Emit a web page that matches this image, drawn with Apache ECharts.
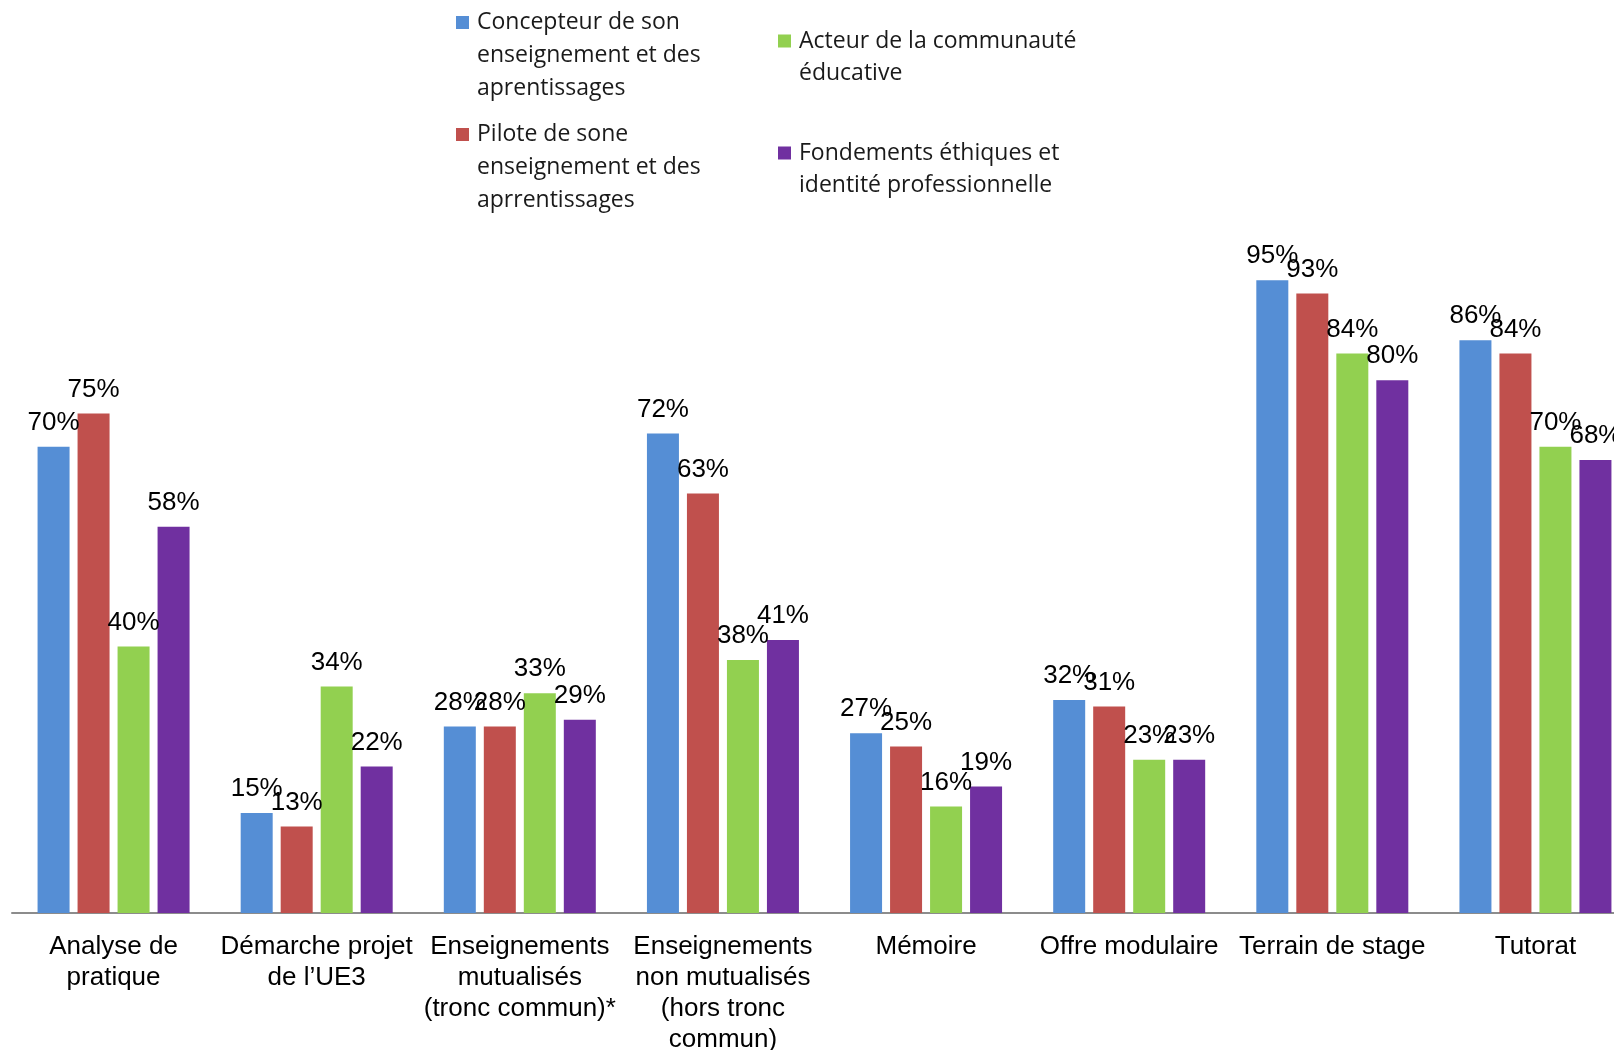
<!DOCTYPE html>
<html>
<head>
<meta charset="utf-8">
<script src="https://cdn.jsdelivr.net/npm/echarts@6/dist/echarts.min.js"></script>
<style>
html,body{margin:0;padding:0;background:#fff;}
#chart{width:1614px;height:1050px;}
</style>
</head>
<body>
<div id="chart"></div>
<script>
const categories = [
  'Analyse de\npratique',
  'Démarche projet\nde l’UE3',
  'Enseignements\nmutualisés\n(tronc commun)*',
  'Enseignements\nnon mutualisés\n(hors tronc\ncommun)',
  'Mémoire',
  'Offre modulaire',
  'Terrain de stage',
  'Tutorat'
];
const seriesNames = [
  'Concepteur de son\nenseignement et des\naprentissages',
  'Pilote de sone\nenseignement et des\naprrentissages',
  'Acteur de la communauté\néducative',
  'Fondements éthiques et\nidentité professionnelle'
];
const concepteur = [70, 15, 28, 72, 27, 32, 95, 86];
const pilote     = [75, 13, 28, 63, 25, 31, 93, 84];
const acteur     = [40, 34, 33, 38, 16, 23, 84, 70];
const fondements = [58, 22, 29, 41, 19, 23, 80, 68];
const colors = ['#558ED5', '#C0504D', '#92D050', '#7030A0'];

const values = [concepteur, pilote, acteur, fondements];

const chart = echarts.init(document.getElementById('chart'));

const icon1 = 'path://M0,0h0.01v0.01h-0.01z M0,10h13v13h-13z M0,99h0.01v-0.01h-0.01z';
const icon2 = 'path://M0,0h0.01v0.01h-0.01z M0,9.5h13v13h-13z M0,64h0.01v-0.01h-0.01z';

const legendText = {fontFamily: 'Open Sans', fontSize: 23, color: '#1a1a1a', padding: [0, 0, 0, 3]};

chart.setOption({
  animation: false,
  color: colors,
  legend: [
    {
      data: [seriesNames[0], seriesNames[1]],
      orient: 'vertical',
      left: 456, top: 6, padding: 0,
      itemWidth: 13, itemHeight: 99, itemGap: 13,
      icon: icon1,
      selectedMode: false,
      textStyle: Object.assign({lineHeight: 33}, legendText)
    },
    {
      data: [seriesNames[2], seriesNames[3]],
      orient: 'vertical',
      left: 778, top: 25, padding: 0,
      itemWidth: 13, itemHeight: 64, itemGap: 48,
      icon: icon2,
      selectedMode: false,
      textStyle: Object.assign({lineHeight: 32}, legendText)
    }
  ],
  grid: {
    left: 12, right: -23, top: 247, bottom: 137,
    containLabel: false,
    outerBoundsMode: 'none'
  },
  xAxis: {
    type: 'category',
    data: categories,
    axisLine: {lineStyle: {color: '#8c8c8c', width: 2}},
    axisTick: {show: false},
    axisLabel: {
      interval: 0,
      margin: 18,
      fontFamily: 'Liberation Sans',
      fontSize: 26,
      lineHeight: 31,
      color: '#000',
      align: 'center'
    }
  },
  yAxis: {
    type: 'value',
    min: 0, max: 100,
    show: false,
    splitLine: {show: false}
  },
  series: values.map((v, i) => ({
    name: seriesNames[i],
    type: 'bar',
    data: v,
    barWidth: 32,
    barGap: '25%',
    itemStyle: {color: colors[i]},
    label: {
      show: true,
      position: 'top',
      distance: 11,
      formatter: '{c}%',
      fontFamily: 'Liberation Sans',
      fontSize: 26,
      color: '#000'
    }
  }))
});
</script>
</body>
</html>
